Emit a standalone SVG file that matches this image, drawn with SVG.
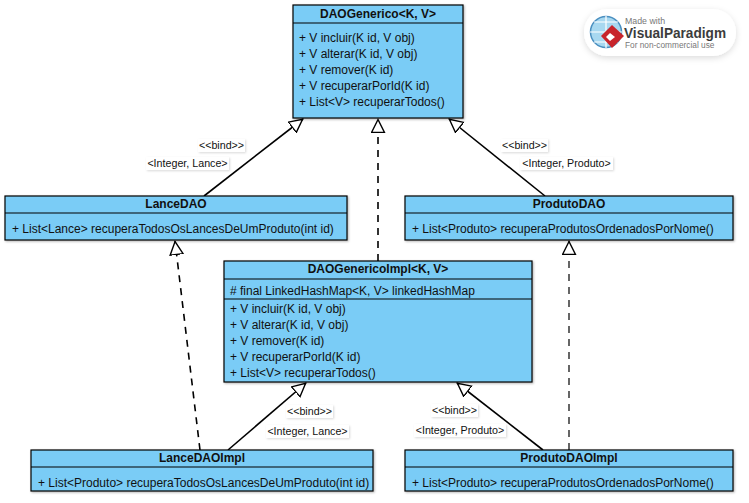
<svg xmlns="http://www.w3.org/2000/svg" width="749" height="503" viewBox="0 0 749 503">
<defs>
<marker id="tri" markerUnits="userSpaceOnUse" markerWidth="16" markerHeight="16" refX="14" refY="7.5" orient="auto"><path d="M0.5,1 L13.5,7.500 L0.5,14 Z" fill="#fff" stroke="#000" stroke-width="1.4"/></marker>
<filter id="sh" x="-5%" y="-5%" width="110%" height="115%"><feDropShadow dx="1" dy="1" stdDeviation="1" flood-color="#000" flood-opacity="0.3"/></filter>
<filter id="lb" x="-10%" y="-20%" width="120%" height="140%"><feDropShadow dx="1" dy="1" stdDeviation="1" flood-color="#000" flood-opacity="0.15"/></filter>
<filter id="soft" x="-10%" y="-20%" width="120%" height="150%"><feDropShadow dx="0" dy="2" stdDeviation="3" flood-color="#000" flood-opacity="0.14"/></filter>
</defs>
<style>
text{font-family:"Liberation Sans",Arial,sans-serif;fill:#111}
.b{fill:#7accf6;stroke:#000;stroke-width:1.2;filter:url(#sh)}
.d{stroke:#000;stroke-width:1.2;fill:none}
.t{font-size:12px;font-weight:bold;text-anchor:middle}
.m{font-size:12px}
.l{font-size:10.7px;text-anchor:middle}
.lb{fill:#fff;filter:url(#lb)}
.c{stroke:#000;stroke-width:1.6;fill:none;marker-end:url(#tri)}
.dash{stroke-dasharray:7 6}
</style>
<rect width="749" height="503" fill="#fff"/>
<g id="connectors">
<path class="c" d="M204,196 L303,119"/>
<path class="c dash" d="M378,261 L378,119"/>
<path class="c" d="M545,196 L449,119"/>
<path class="c dash" d="M200,450 L175,241"/>
<path class="c dash" stroke-dasharray="6 6" style="stroke-width:1.2" d="M569,450 L569,241"/>
<path class="c" d="M228,450 L306,383"/>
<path class="c" d="M543,450 L457,383"/>
</g>
<g id="labels">
<rect class="lb" x="198" y="139" width="47" height="13"/><text class="l" x="221.500" y="149">&lt;&lt;bind&gt;&gt;</text>
<rect class="lb" x="146" y="157" width="83" height="13"/><text class="l" x="187.500" y="167">&lt;Integer, Lance&gt;</text>
<rect class="lb" x="501" y="139" width="47" height="13"/><text class="l" x="524.500" y="149">&lt;&lt;bind&gt;&gt;</text>
<rect class="lb" x="520" y="157" width="93" height="13"/><text class="l" x="566.500" y="167">&lt;Integer, Produto&gt;</text>
<rect class="lb" x="286" y="405" width="47" height="13"/><text class="l" x="309.500" y="415">&lt;&lt;bind&gt;&gt;</text>
<rect class="lb" x="266" y="425" width="83" height="13"/><text class="l" x="307.500" y="435">&lt;Integer, Lance&gt;</text>
<rect class="lb" x="431" y="404" width="47" height="13"/><text class="l" x="454.500" y="414">&lt;&lt;bind&gt;&gt;</text>
<rect class="lb" x="414" y="424" width="92" height="13"/><text class="l" x="460" y="434">&lt;Integer, Produto&gt;</text>
</g>
<g id="DAOGenerico">
<rect class="b" x="293" y="5" width="170" height="113"/><path class="d" d="M293,23 H463"/>
<text class="t" x="378" y="17.500">DAOGenerico&lt;K, V&gt;</text>
<text class="m" x="299" y="42">+ V incluir(K id, V obj)</text>
<text class="m" x="299" y="58">+ V alterar(K id, V obj)</text>
<text class="m" x="299" y="74">+ V remover(K id)</text>
<text class="m" x="299" y="90">+ V recuperarPorId(K id)</text>
<text class="m" x="299" y="106">+ List&lt;V&gt; recuperarTodos()</text>
</g>
<g id="LanceDAO">
<rect class="b" x="5" y="196" width="342" height="44"/><path class="d" d="M5,213 H347"/>
<text class="t" x="176" y="208">LanceDAO</text>
<text class="m" x="12" y="233">+ List&lt;Lance&gt; recuperaTodosOsLancesDeUmProduto(int id)</text>
</g>
<g id="ProdutoDAO">
<rect class="b" x="405" y="196" width="328" height="44"/><path class="d" d="M405,213 H733"/>
<text class="t" x="569" y="208">ProdutoDAO</text>
<text class="m" x="412" y="233">+ List&lt;Produto&gt; recuperaProdutosOrdenadosPorNome()</text>
</g>
<g id="DAOGenericoImpl">
<rect class="b" x="224" y="261" width="308" height="121"/><path class="d" d="M224,279 H532 M224,299 H532"/>
<text class="t" x="378" y="273">DAOGenericoImpl&lt;K, V&gt;</text>
<text class="m" x="230" y="295"># final LinkedHashMap&lt;K, V&gt; linkedHashMap</text>
<text class="m" x="230" y="313">+ V incluir(K id, V obj)</text>
<text class="m" x="230" y="329">+ V alterar(K id, V obj)</text>
<text class="m" x="230" y="345">+ V remover(K id)</text>
<text class="m" x="230" y="361">+ V recuperarPorId(K id)</text>
<text class="m" x="230" y="377">+ List&lt;V&gt; recuperarTodos()</text>
</g>
<g id="LanceDAOImpl">
<rect class="b" x="31" y="450" width="342" height="41"/><path class="d" d="M31,467 H373"/>
<text class="t" x="202" y="462">LanceDAOImpl</text>
<text class="m" x="38" y="487">+ List&lt;Produto&gt; recuperaTodosOsLancesDeUmProduto(int id)</text>
</g>
<g id="ProdutoDAOImpl">
<rect class="b" x="405" y="450" width="328" height="41"/><path class="d" d="M405,467 H733"/>
<text class="t" x="569" y="462">ProdutoDAOImpl</text>
<text class="m" x="412" y="487">+ List&lt;Produto&gt; recuperaProdutosOrdenadosPorNome()</text>
</g>
<g id="logo">
<rect x="584" y="9" width="152" height="47" rx="23" fill="#fff" filter="url(#soft)"/>
<circle cx="606" cy="32" r="15.500" fill="#a8d8f0" stroke="#4a8fc0" stroke-width="1.5"/>
<path d="M590,32 H622 M606,16 V48 M594,22 H618 M594,42 H618" stroke="#fff" stroke-width="1.2" fill="none"/>
<path d="M612,25 L624,36 L612,48 L601,36 Z" fill="#c8242b"/>
<path d="M610,33 L615,37 L610,41 L606,37 Z" fill="#fff"/>
<text x="625" y="24" style="font-size:8.800px;fill:#777">Made with</text>
<text x="624" y="37.500" style="font-size:14px;font-weight:bold;fill:#3c3c3c" textLength="102" lengthAdjust="spacingAndGlyphs">VisualParadigm</text>
<text x="625" y="47.500" style="font-size:8.300px;fill:#777">For non-commercial use</text>
</g>
</svg>
